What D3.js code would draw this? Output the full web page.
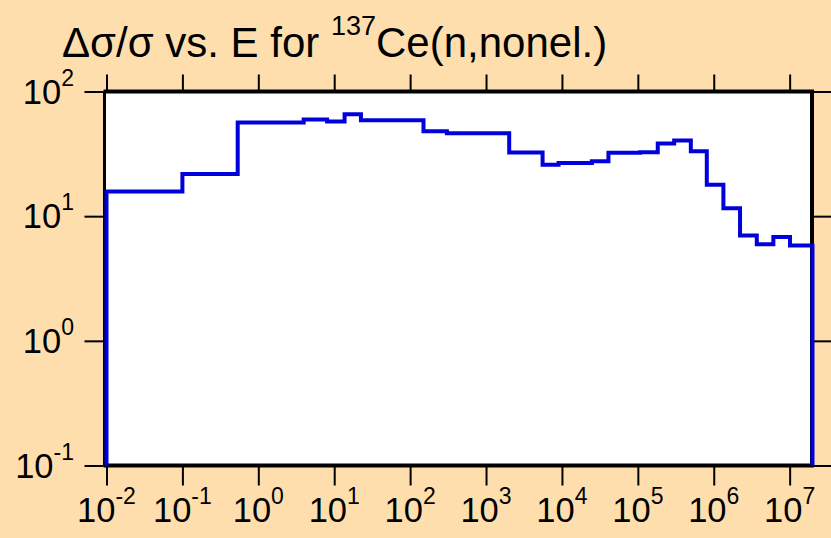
<!DOCTYPE html>
<html>
<head>
<meta charset="utf-8">
<script src="https://cdn.jsdelivr.net/npm/d3@7/dist/d3.min.js"></script>
<style>
  html, body { margin: 0; padding: 0; background: #ffdead; }
  svg { display: block; }
  text { font-family: "Liberation Sans", Arial, sans-serif; fill: #000; }
</style>
</head>
<body>
<svg id="chart" width="831" height="538"></svg>
<script>
// Group boundaries (eV): lower edge of each energy group, last entry is the upper edge
const edges = [1e-2, 0.1, 0.535, 3.96, 8.05, 13.7, 22.5, 150, 305, 2020, 5560, 9030,
               24800, 41000, 107000, 183000, 301000, 499000, 810000, 1.34e6, 2.22e6,
               3.69e6, 6.1e6, 1.01e7, 2e7];
// Relative uncertainty (%) in each group
const values = [15.8, 21.8, 56.4, 59.6, 57.5, 65.8, 58.8, 48.0, 46.2, 32.4, 25.8, 26.7,
                27.6, 32.2, 32.5, 38.2, 40.4, 33.2, 17.9, 11.6, 7.0, 5.94, 6.8, 5.83];
const xTickExps = [-2, -1, 0, 1, 2, 3, 4, 5, 6, 7];
const yTickExps = [-1, 0, 1, 2];

const svg = d3.select("#chart");
const pLeft = 105.5, pRight = 812, pTop = 91.5, pBottom = 465.5;

const x = d3.scaleLog().domain([1e-2, 2e7]).range([106.5, 812.5]);
const y = d3.scaleLog().domain([0.1, 100]).range([pBottom, pTop]);

// plot area
svg.append("rect")
  .attr("x", pLeft).attr("y", pTop)
  .attr("width", pRight - pLeft).attr("height", pBottom - pTop)
  .attr("fill", "#fff");

// step histogram: rise from the floor, walk the groups, drop back to the floor
const pts = [[edges[0], 0.1]];
values.forEach((v, i) => { pts.push([edges[i], v]); });
pts.push([edges[edges.length - 1], values[values.length - 1]]);
pts.push([edges[edges.length - 1], 0.1]);

const line = d3.line()
  .x(d => x(d[0]))
  .y(d => y(d[1]))
  .curve(d3.curveStepAfter);

// frame
const frame = svg.append("g").attr("stroke", "#000").attr("fill", "none");
frame.append("line").attr("x1", pLeft - 2).attr("x2", pRight + 2).attr("y1", pTop).attr("y2", pTop).attr("stroke-width", 4);
frame.append("line").attr("x1", pLeft - 2).attr("x2", pRight + 2).attr("y1", pBottom).attr("y2", pBottom).attr("stroke-width", 4);
frame.append("line").attr("x1", pLeft - 1).attr("x2", pLeft - 1).attr("y1", pTop).attr("y2", pBottom).attr("stroke-width", 3);
frame.append("line").attr("x1", pRight).attr("x2", pRight).attr("y1", pTop).attr("y2", pBottom).attr("stroke-width", 4);

svg.append("path")
  .datum(pts)
  .attr("d", line)
  .attr("fill", "none")
  .attr("stroke", "#0000dd")
  .attr("stroke-width", 4);

// axes: ticks outside the frame on all four sides
const xTicks = xTickExps.map(e => Math.pow(10, e));
const yTicks = yTickExps.map(e => Math.pow(10, e));

const styleAxis = g => {
  g.select(".domain").remove();
  g.selectAll(".tick line").attr("stroke", "#000").attr("stroke-width", 2);
  g.selectAll(".tick text").remove();
};

svg.append("g").attr("transform", `translate(0,${pBottom + 1})`)
  .call(d3.axisBottom(x).tickValues(xTicks).tickSize(19)).call(styleAxis);
svg.append("g").attr("transform", `translate(0,${pTop - 1})`)
  .call(d3.axisTop(x).tickValues(xTicks).tickSize(16)).call(styleAxis);
svg.append("g").attr("transform", `translate(${pLeft - 2},0)`)
  .call(d3.axisLeft(y).tickValues(yTicks).tickSize(19)).call(styleAxis);
svg.append("g").attr("transform", `translate(${pRight + 2},0)`)
  .call(d3.axisRight(y).tickValues(yTicks).tickSize(19)).call(styleAxis);

// power-of-ten labels
function powLabel(sel, exp) {
  sel.append("tspan").text("10");
  sel.append("tspan").attr("dy", -18).attr("font-size", 23).text(exp);
}
xTickExps.forEach(e => {
  svg.append("text")
    .attr("x", x(Math.pow(10, e)))
    .attr("y", 522)
    .attr("font-size", 34.5)
    .attr("text-anchor", "middle")
    .call(powLabel, e);
});
yTickExps.forEach(e => {
  svg.append("text")
    .attr("x", 74)
    .attr("y", y(Math.pow(10, e)) + 12)
    .attr("font-size", 34.5)
    .attr("text-anchor", "end")
    .call(powLabel, e);
});

// title
const title = svg.append("text").attr("x", 62).attr("y", 57).attr("font-size", 42);
title.append("tspan").text("\u0394\u03c3/\u03c3 vs. E for ");
title.append("tspan").attr("dy", -22).attr("font-size", 27).text("137");
title.append("tspan").attr("dy", 22).text("Ce(n,nonel.)");
</script>
</body>
</html>
